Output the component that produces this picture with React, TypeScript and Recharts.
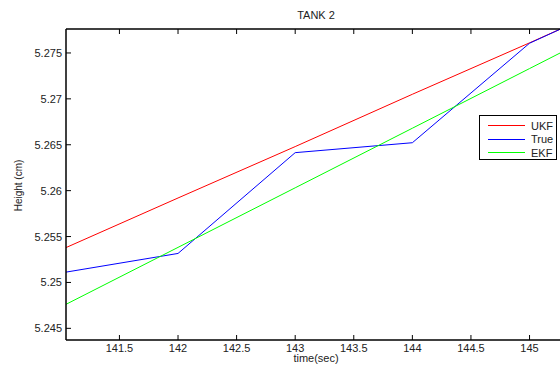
import React from 'react';
import { LineChart, Line, XAxis, YAxis } from 'recharts';

const times = [141, 142, 143, 144, 145, 146];
const ukf = [5.25355, 5.2592, 5.2648, 5.2705, 5.2761, 5.2818];
const trueH = [5.25103, 5.25316, 5.26414, 5.26522, 5.27606, 5.2819];
const ekf = [5.24733, 5.25382, 5.26031, 5.2668, 5.2733, 5.2798];

const xTicks = [141.5, 142, 142.5, 143, 143.5, 144, 144.5, 145];
const yTicks = [5.245, 5.25, 5.255, 5.26, 5.265, 5.27, 5.275];

const data = times.map((t, i) => ({ t, ukf: ukf[i], trueH: trueH[i], ekf: ekf[i] }));

const series = [
  { key: 'ukf', name: 'UKF', color: '#ff0000' },
  { key: 'trueH', name: 'True', color: '#0000ff' },
  { key: 'ekf', name: 'EKF', color: '#00ff00' },
];

const font = 'Arial, "Liberation Sans", Helvetica, sans-serif';

const LeftTick = ({ x, y, payload }: any) => (
  <g>
    <line x1={x + 4} x2={x + 9} y1={y} y2={y} stroke="#000" />
    <text x={x} y={y} dy={4} textAnchor="end" fontSize={11} fill="#222" fontFamily={font}>
      {payload.value}
    </text>
  </g>
);

const BottomTick = ({ x, y, payload }: any) => (
  <g>
    <line x1={x} x2={x} y1={y - 4} y2={y - 9} stroke="#000" />
    <text x={x} y={y} dy={8} textAnchor="middle" fontSize={11} fill="#222" fontFamily={font}>
      {payload.value}
    </text>
  </g>
);

const TopTick = ({ x, y }: any) => (
  <line x1={x} x2={x} y1={y + 4} y2={y + 9} stroke="#000" />
);

export default function App() {
  return (
    <div style={{ position: 'absolute', left: 0, top: 0, width: 560, height: 367, background: '#fff', overflow: 'hidden', fontFamily: font }}>
      <LineChart width={580} height={367} data={data} margin={{ top: 0, right: 20, bottom: 0, left: 0 }}>
        <XAxis
          dataKey="t"
          type="number"
          domain={[141.044, 145.26]}
          allowDataOverflow
          ticks={xTicks}
          tick={<BottomTick />}
          tickLine={false}
          tickSize={0}
          tickMargin={4}
          height={27}
          axisLine={{ stroke: '#000', strokeWidth: 1.5 }}
        />
        <XAxis
          xAxisId="top"
          orientation="top"
          dataKey="t"
          type="number"
          domain={[141.044, 145.26]}
          allowDataOverflow
          ticks={xTicks}
          tick={<TopTick />}
          tickLine={false}
          tickSize={0}
          tickMargin={4}
          height={29}
          axisLine={{ stroke: '#000', strokeWidth: 1.5 }}
        />
        <YAxis
          type="number"
          domain={[5.24373, 5.27761]}
          allowDataOverflow
          ticks={yTicks}
          tick={<LeftTick />}
          tickLine={false}
          tickSize={0}
          tickMargin={4}
          width={66}
          axisLine={{ stroke: '#000', strokeWidth: 1.5 }}
        />
        {series.map((s) => (
          <Line
            key={s.key}
            dataKey={s.key}
            name={s.name}
            stroke={s.color}
            strokeWidth={1}
            dot={false}
            isAnimationActive={false}
          />
        ))}
      </LineChart>
      <div style={{ position: 'absolute', left: 0, top: 9, width: 632, textAlign: 'center', fontSize: 11, color: '#222' }}>TANK 2</div>
      <div style={{ position: 'absolute', left: 0, top: 352, width: 632, textAlign: 'center', fontSize: 11, lineHeight: '13px', color: '#222' }}>time(sec)</div>
      <div style={{ position: 'absolute', left: 18, top: 187, width: 0, height: 0 }}>
        <div style={{ position: 'absolute', left: -40, top: -7, width: 80, textAlign: 'center', fontSize: 10, color: '#222', transform: 'rotate(-90deg)', whiteSpace: 'nowrap' }}>Height (cm)</div>
      </div>
      <div style={{ position: 'absolute', left: 479, top: 115, width: 78, height: 45, border: '1px solid #000', boxSizing: 'border-box', background: '#fff' }}>
        {series.map((s, i) => (
          <div key={s.key} style={{ position: 'absolute', left: 0, top: 3 + i * 13.5, height: 13, display: 'flex', alignItems: 'center' }}>
            <div style={{ marginLeft: 8, width: 37, height: 1, background: s.color }} />
            <span style={{ marginLeft: 6, fontSize: 11, color: '#222' }}>{s.name}</span>
          </div>
        ))}
      </div>
    </div>
  );
}
